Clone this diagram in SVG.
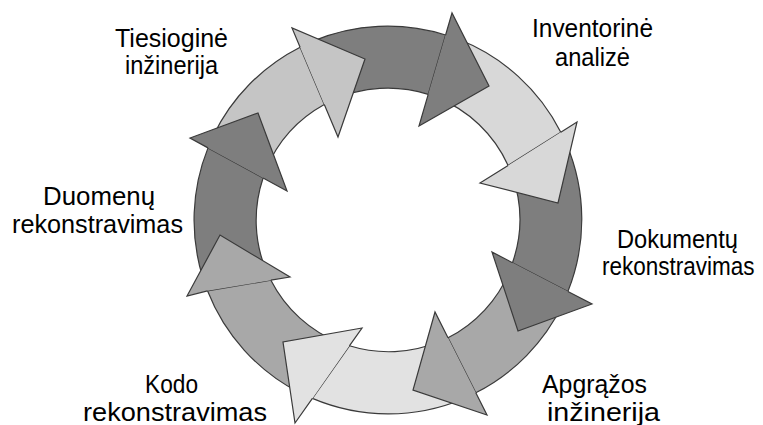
<svg xmlns="http://www.w3.org/2000/svg" width="763" height="425" viewBox="0 0 763 425">
  <style>
    .lbl { font-family: "Liberation Sans", Arial, sans-serif; font-size: 25px; fill: #000; }
    .edge { stroke: #3a3a3a; stroke-width: 1.2; stroke-linejoin: miter; }
    .dark { fill: #7e7e7e; }
    .mid { fill: #a8a8a8; }
    .soft { fill: #c5c5c5; }
    .pale { fill: #d8d8d8; }
    .palest { fill: #e2e2e2; }
  </style>
  <rect width="763" height="425" fill="#fff"/>

  <!-- Ring of eight curved arrows, clockwise, centre (388,220), ring radii 132..194 -->
  <g id="connectors">
    <!-- arrow bodies: each tail starts under the previous arrowhead -->
    <g id="bodies">
      <path class="edge dark"   d="M312.2,41.4 A194,194 0 0 1 445.6,35.0 L428.2,94.4 A132,132 0 0 0 332.4,100.3 Z"/>
      <path class="edge pale"   d="M458.5,39.3 A194,194 0 0 1 560.8,132.2 L508.1,165.4 A132,132 0 0 0 436.8,97.4 Z"/>
      <path class="edge dark"   d="M566.7,144.5 A194,194 0 0 1 567.9,291.5 L512.5,262.7 A132,132 0 0 0 511.7,174.0 Z"/>
      <path class="edge mid"    d="M562.8,304.1 A194,194 0 0 1 475.8,392.8 L448.0,337.8 A132,132 0 0 0 509.6,271.4 Z"/>
      <path class="edge palest" d="M463.5,398.7 A194,194 0 0 1 312.4,398.4 L349.4,345.8 A132,132 0 0 0 439.6,341.5 Z"/>
      <path class="edge mid"    d="M299.9,392.9 A194,194 0 0 1 207.5,290.8 L270.9,280.2 A132,132 0 0 0 340.5,343.2 Z"/>
      <path class="edge dark"   d="M202.9,278.0 A194,194 0 0 1 208.0,147.9 L263.1,178.0 A132,132 0 0 0 266.7,272.0 Z"/>
      <path class="edge soft"   d="M213.3,135.6 A194,194 0 0 1 300.1,47.2 L324.3,104.5 A132,132 0 0 0 266.1,169.3 Z"/>
    </g>
    <!-- arrowheads: open paths so the base line across the body is not stroked -->
    <g id="heads">
      <path class="edge dark"   d="M445.6,35.0 L452,13 L489,86 L419,126 L428.2,94.4"/>
      <path class="edge pale"   d="M560.8,132.2 L577,122 L558,203 L480,183 L508.1,165.4"/>
      <path class="edge dark"   d="M567.9,291.5 L592,304 L518,331 L492,252 L512.5,262.7"/>
      <path class="edge mid"    d="M475.8,392.8 L487,415 L413,390 L435,312 L448.0,337.8"/>
      <path class="edge palest" d="M312.4,398.4 L295,423 L283,342 L362,328 L349.4,345.8"/>
      <path class="edge mid"    d="M207.5,290.8 L187,296 L220,235 L290,277 L270.9,280.2"/>
      <path class="edge dark"   d="M208.0,147.9 L190,138 L258,113 L287,191 L263.1,178.0"/>
      <path class="edge soft"   d="M300.1,47.2 L292,28 L365,59 L338,137 L324.3,104.5"/>
    </g>
  </g>

  <!-- stage labels -->
  <g id="tiesiogine">
    <text class="lbl" x="115" y="47" textLength="113" lengthAdjust="spacingAndGlyphs">Tiesioginė</text>
    <text class="lbl" x="125" y="74" textLength="93" lengthAdjust="spacingAndGlyphs">inžinerija</text>
  </g>
  <g id="inventorine">
    <text class="lbl" x="532" y="37" textLength="121" lengthAdjust="spacingAndGlyphs">Inventorinė</text>
    <text class="lbl" x="555" y="66" textLength="75" lengthAdjust="spacingAndGlyphs">analizė</text>
  </g>
  <g id="dokumentu">
    <text class="lbl" x="617" y="248" textLength="121" lengthAdjust="spacingAndGlyphs">Dokumentų</text>
    <!-- narrower second line, squeezed horizontally -->
    <text class="lbl" transform="translate(602 275) scale(0.9 1)" x="0" y="0">rekonstravimas</text>
  </g>
  <g id="duomenu">
    <text class="lbl" x="43" y="205" textLength="112" lengthAdjust="spacingAndGlyphs">Duomenų</text>
    <text class="lbl" x="12" y="233" textLength="171" lengthAdjust="spacingAndGlyphs">rekonstravimas</text>
  </g>
  <g id="kodo">
    <text class="lbl" x="145" y="393" textLength="53" lengthAdjust="spacingAndGlyphs">Kodo</text>
    <text class="lbl" x="83" y="421" textLength="184" lengthAdjust="spacingAndGlyphs">rekonstravimas</text>
  </g>
  <g id="apgrazos">
    <text class="lbl" x="542" y="393" textLength="105" lengthAdjust="spacingAndGlyphs">Apgrąžos</text>
    <text class="lbl" x="547" y="421" textLength="113" lengthAdjust="spacingAndGlyphs">inžinerija</text>
  </g>
</svg>
